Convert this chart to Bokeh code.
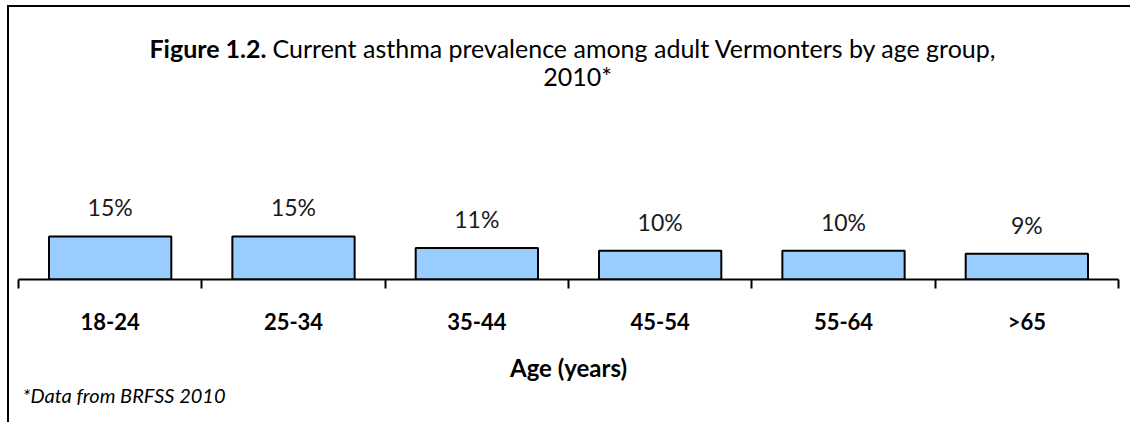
from bokeh.plotting import figure
from bokeh.models import Range1d, LinearAxis, FixedTicker, ColumnDataSource, Label, Title
from bokeh.core.properties import value
from bokeh.embed import file_html
from bokeh.resources import INLINE

ages = ["18-24", "25-34", "35-44", "45-54", "55-64", ">65"]
prevalence = [15, 15, 11, 10, 10, 9]
value_labels = ["15%", "15%", "11%", "10%", "10%", "9%"]

FONT = "Lato"

xs = [i + 0.5 for i in range(len(ages))]
src = ColumnDataSource(dict(x=xs, top=prevalence, lab=value_labels, age=ages))

W, H = 1123, 417
p = figure(width=W, height=H, output_backend="svg", toolbar_location=None,
           x_range=Range1d(0, len(ages)), y_range=Range1d(0, 94.8),
           x_axis_location=None, y_axis_location=None,
           min_border_left=9, min_border_right=14, min_border_top=0, min_border_bottom=145)
p.outline_line_color = None
p.xgrid.visible = False
p.ygrid.visible = False
p.background_fill_color = "white"
p.border_fill_color = "white"
p.styles = {"border-left": "2px solid black", "border-top": "2px solid black",
            "margin-left": "7px", "margin-top": "5px"}

p.vbar(x="x", top="top", bottom=0, width=0.667, source=src,
       fill_color="#99CCFF", line_color="black", line_width=2)
p.text(x="x", y="top", text="lab", source=src, y_offset=-29,
       text_align="center", text_baseline="middle",
       text_font=value(FONT), text_font_size="23px", text_color="#1a1a1a")

axis = LinearAxis(ticker=FixedTicker(ticks=xs, minor_ticks=list(range(len(ages) + 1))))
axis.major_label_overrides = {x: a for x, a in zip(xs, ages)}
axis.major_tick_line_color = None
axis.major_tick_out = 0
axis.major_tick_in = 0
axis.minor_tick_out = 9
axis.minor_tick_in = 0
axis.minor_tick_line_width = 2
axis.minor_tick_line_color = "black"
axis.axis_line_width = 2
axis.axis_line_color = "black"
axis.major_label_standoff = 19
axis.major_label_text_font = FONT
axis.major_label_text_font_style = "bold"
axis.major_label_text_font_size = "22px"
axis.major_label_text_color = "black"
axis.axis_label = "Age (years)"
axis.axis_label_standoff = 15
axis.axis_label_text_font = FONT
axis.axis_label_text_font_style = "bold"
axis.axis_label_text_font_size = "24px"
axis.axis_label_text_color = "black"
p.add_layout(axis, "below")

p.add_layout(Title(text="*Data from BRFSS 2010", align="left", offset=4, standoff=-8,
                   text_font=FONT, text_font_style="italic", text_font_size="20px",
                   text_color="black"), "below")

p.add_layout(Label(x=248, y=232, x_units="screen", y_units="screen", text="Figure 1.2.",
                   text_font=FONT, text_font_style="bold", text_font_size="25px",
                   text_align="right", text_baseline="middle", text_color="black"))
p.add_layout(Label(x=254, y=232, x_units="screen", y_units="screen",
                   text="Current asthma prevalence among adult Vermonters by age group,",
                   text_font=FONT, text_font_size="25px",
                   text_align="left", text_baseline="middle", text_color="black"))
p.add_layout(Label(x=559, y=204, x_units="screen", y_units="screen", text="2010*",
                   text_font=FONT, text_font_size="25px",
                   text_align="center", text_baseline="middle", text_color="black"))

open("out.html", "w").write(file_html(p, INLINE))
